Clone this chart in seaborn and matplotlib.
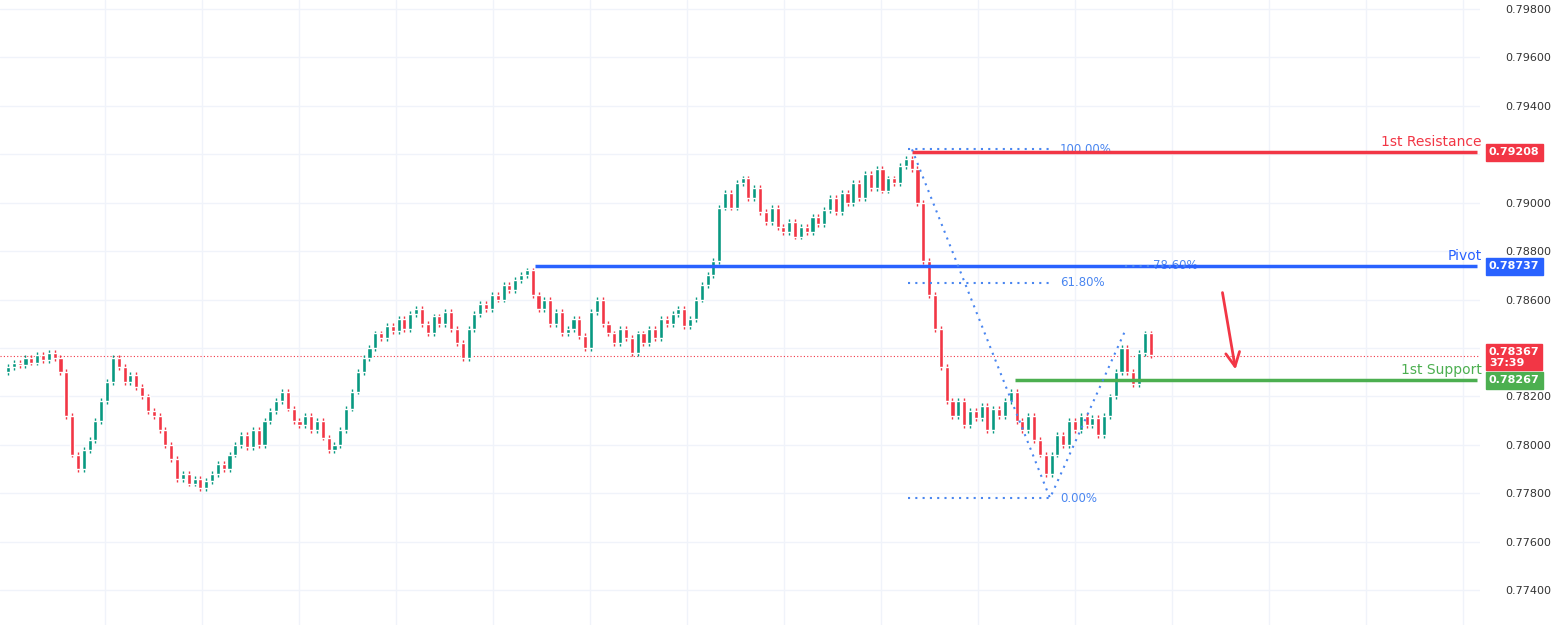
import numpy as np
import pandas as pd
import matplotlib
matplotlib.use("Agg")
import matplotlib.pyplot as plt
import seaborn as sns

# closes (open = previous close)
closes = [0.7832, 0.7834, 0.7833, 0.7836, 0.7834, 0.7837, 0.7835, 0.7838, 0.7836, 0.7830,
          0.7812, 0.7796,
          0.7790, 0.7798, 0.7802, 0.7810, 0.7818, 0.7826, 0.7836,
          0.7832, 0.7826, 0.7829, 0.7824, 0.7820, 0.7814, 0.7812, 0.7806, 0.7800, 0.7794,
          0.7786, 0.7788, 0.7784, 0.7786, 0.7782, 0.7785,
          0.7788, 0.7792, 0.7790, 0.7796, 0.7800, 0.7804, 0.7799, 0.7806,
          0.7800, 0.7810, 0.7814, 0.7818, 0.7822, 0.7815, 0.7810,
          0.7808, 0.7812, 0.7806, 0.7810, 0.7803, 0.7798, 0.7800,
          0.7806, 0.7815, 0.7822, 0.7830, 0.7836, 0.7840, 0.7846, 0.7844, 0.7849, 0.7847,
          0.7852, 0.7848, 0.7854, 0.7856, 0.7850, 0.7846, 0.7853, 0.7850, 0.7855, 0.7848, 0.7842, 0.7836,
          0.7848, 0.7854, 0.7858, 0.7856, 0.7862, 0.7860, 0.7866, 0.7864, 0.7868, 0.7870, 0.7872,
          0.7862, 0.7856, 0.7860, 0.7850, 0.7855, 0.7846, 0.7848, 0.7852, 0.7845, 0.7840, 0.7855,
          0.7860, 0.7850, 0.7846, 0.7842, 0.7848, 0.7844, 0.7838,
          0.7846, 0.7842, 0.7848, 0.7844, 0.7852, 0.7850, 0.7854, 0.7856, 0.7849, 0.7852,
          0.7860, 0.7866, 0.7870, 0.7876,
          0.7898,
          0.7904, 0.7898, 0.7908, 0.7910, 0.7902, 0.7906,
          0.7896, 0.7892, 0.7898, 0.7890, 0.7888, 0.7892, 0.7886, 0.7890, 0.7888, 0.7894, 0.7891, 0.7897,
          0.7902, 0.7896, 0.7904, 0.7900,
          0.7908, 0.7902, 0.7912, 0.7906, 0.7914, 0.7905, 0.7910, 0.7908, 0.7915,
          0.7918, 0.7914,
          0.7900, 0.7876, 0.7862, 0.7848,
          0.7832, 0.7818, 0.7812,
          0.7818, 0.7808, 0.7814, 0.7811, 0.7816, 0.7806, 0.7815, 0.7812, 0.7818,
          0.7822, 0.7810, 0.7806, 0.7812, 0.7802, 0.7796, 0.7788,
          0.7796, 0.7804, 0.7800, 0.7810, 0.7806, 0.7812, 0.7808, 0.7811, 0.7804, 0.7812,
          0.7820, 0.7830, 0.7840, 0.7830, 0.7825, 0.7838, 0.7846, 0.7837]
first_open = 0.7830

resistance = 0.79208
pivot = 0.78737
support = 0.78267
current = 0.78367
fib_high = 0.7922
fib_low = 0.7778
fib_618 = 0.7867
fib_786 = 0.7874
yticks = [0.774, 0.776, 0.778, 0.780, 0.782, 0.784, 0.786, 0.788, 0.790, 0.792, 0.794, 0.796, 0.798]
hidden_ticks = [0.784, 0.792]  # covered by the price boxes

df = pd.DataFrame({"close": closes})
df["open"] = [first_open] + closes[:-1]
df["idx"] = np.arange(len(df))
df["up"] = df["close"] >= df["open"]
pad = 0.00012
df["high"] = df[["open", "close"]].max(axis=1) + pad
df["low"] = df[["open", "close"]].min(axis=1) - pad

green, red, blue, gsup = "#089981", "#f23645", "#2962ff", "#4caf50"

sns.set_style("white")
plt.rcParams['font.family'] = ['DejaVu Sans']
fig = plt.figure(figsize=(15.53, 6.25), dpi=100)
ax = fig.add_axes([0, 0, 1480 / 1553, 1])

sp = 5.83
ax.set_xlim(-8 / sp, 1472 / sp)
ax.set_ylim(0.77256, 0.79837)

for xv in np.arange(-8 / sp + 105 / sp, 252, 97 / sp):
    ax.axvline(xv, color="#f0f3fa", lw=1, zorder=0)
for yv in yticks:
    ax.axhline(yv, color="#f0f3fa", lw=1, zorder=0)

cols = np.where(df["up"], green, red)
ax.vlines(df["idx"], df["low"], df["high"], colors=cols, lw=1, zorder=2)
ax.bar(df["idx"], (df["close"] - df["open"]).abs().clip(lower=0.00002),
       bottom=df[["open", "close"]].min(axis=1), width=0.7, color=cols, zorder=3)

def px(x):
    return (x - 8) / sp

ax.hlines(resistance, px(912), 252, color=red, lw=2.5, zorder=4)
ax.hlines(pivot, px(535), 252, color=blue, lw=2.5, zorder=4)
ax.hlines(support, px(1015), 252, color=gsup, lw=2.5, zorder=4)
ax.axhline(current, color=red, lw=0.8, ls=(0, (1, 2)), zorder=1)

fcol = "#4a86f0"
for lvl, lab in [(fib_high, "100.00%"), (fib_618, "61.80%"), (fib_low, "0.00%")]:
    ax.hlines(lvl, px(908), px(1050), color=fcol, lw=1.5, ls=(0, (1, 2.5)), zorder=4)
    ax.text(px(1060), lvl, lab, color=fcol, fontsize=8.5, va="center")
ax.hlines(fib_786, px(1125), px(1190), color=fcol, lw=1.5, ls=(0, (1, 2.5)), zorder=4)
ax.text(px(1153), fib_786, "78.60%", color=fcol, fontsize=8.5, va="center")
ax.plot([px(912), px(1050), px(1125)], [fib_high, fib_low, 0.7847],
        color=fcol, lw=1.5, ls=(0, (1, 2.5)), zorder=4)

ax.annotate("", xy=(px(1236), 0.7830), xytext=(px(1222), 0.7864),
            arrowprops=dict(arrowstyle="->,head_width=0.5,head_length=1", color=red, lw=2))

ax.text(px(1482), resistance + 0.00025, "1st Resistance", color=red, fontsize=10, ha="right")
ax.text(px(1482), pivot + 0.00025, "Pivot", color=blue, fontsize=10, ha="right")
ax.text(px(1482), support + 0.00025, "1st Support", color=gsup, fontsize=10, ha="right")

ax.yaxis.tick_right()
ax.set_yticks(yticks)
ax.set_yticklabels(["" if v in hidden_ticks else f"{v:.5f}" for v in yticks],
                   fontsize=8, color="#333333")
ax.tick_params(axis="y", length=0, pad=18)
ax.set_xticks([])
for s in ax.spines.values():
    s.set_visible(False)

for lvl, c, t in [(resistance, red, "0.79208"), (pivot, blue, "0.78737"),
                  (support, gsup, "0.78267")]:
    ax.text(1.006, lvl, t, transform=ax.get_yaxis_transform(), color="white",
            fontsize=8, fontweight="bold", va="center", zorder=10,
            bbox=dict(boxstyle="square,pad=0.3", fc=c, ec=c))
ax.text(1.006, current - 0.00005, "0.78367\n37:39", transform=ax.get_yaxis_transform(),
        color="white", fontsize=8, fontweight="bold", va="center", linespacing=1.1,
        zorder=10, bbox=dict(boxstyle="square,pad=0.25", fc=red, ec=red))

fig.savefig("out.png", dpi=100)
